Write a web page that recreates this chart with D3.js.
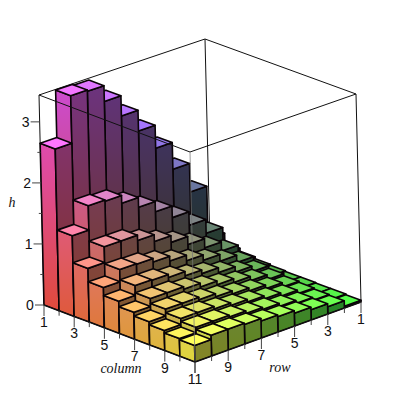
<!DOCTYPE html>
<html>
<head>
<meta charset="utf-8">
<script src="https://cdn.jsdelivr.net/npm/d3@7"></script>
<style>
  html, body { margin: 0; background: #fff; }
  .tick-label { font: 14px "Liberation Sans", sans-serif; fill: #111; text-anchor: middle; }
  .axis-title { font: italic 14px "Liberation Serif", serif; fill: #111; text-anchor: middle; }
</style>
</head>
<body>
<div class="chart"></div>
<script>
// bar heights, one list per column, row 1 first
const column1 = [0.32, 1.19, 1.66, 2.10, 2.48, 2.82, 3.15, 3.41, 3.43, 2.65];
const column2 = [0.16, 0.60, 0.83, 1.05, 1.24, 1.41, 1.57, 1.70, 1.72, 1.32];
const column3 = [0.11, 0.40, 0.55, 0.70, 0.83, 0.94, 1.05, 1.14, 1.14, 0.88];
const column4 = [0.08, 0.30, 0.42, 0.53, 0.62, 0.71, 0.79, 0.85, 0.86, 0.66];
const column5 = [0.06, 0.24, 0.33, 0.42, 0.50, 0.56, 0.63, 0.68, 0.69, 0.53];
const column6 = [0.05, 0.20, 0.28, 0.35, 0.41, 0.47, 0.53, 0.57, 0.57, 0.44];
const column7 = [0.05, 0.17, 0.24, 0.30, 0.35, 0.40, 0.45, 0.49, 0.49, 0.38];
const column8 = [0.04, 0.15, 0.21, 0.26, 0.31, 0.35, 0.39, 0.43, 0.43, 0.33];
const column9 = [0.04, 0.13, 0.18, 0.23, 0.28, 0.31, 0.35, 0.38, 0.38, 0.29];
const column10 = [0.03, 0.12, 0.17, 0.21, 0.25, 0.28, 0.32, 0.34, 0.34, 0.27];
const columns = [column1, column2, column3, column4, column5, column6, column7, column8, column9, column10];

const columnTicks = [1, 3, 5, 7, 9, 11];
const rowTicks = [1, 3, 5, 7, 9];
const heightTicks = [0, 1, 2, 3];
const heightMax = 3.44;

const svg = d3.selectAll(".chart")
    .append("svg")
    .attr("width", 400)
    .attr("height", 400)
    .style("display", "block");
const defs = svg.append("defs");

// scales from data values to box fractions
const colScale = d3.scaleLinear().domain([1, 11]).range([0, 1]);
const rowScale = d3.scaleLinear().domain([11, 1]).range([0, 1]);
const hScale = d3.scaleLinear().domain([0, heightMax]).range([0, 1]);

// the view is almost orthographic, so each screen coordinate is a sum of three axis scales
const xFromCol = d3.scaleLinear().domain([0, 1]).range([0, 151]);
const xFromRow = d3.scaleLinear().domain([0, 1]).range([0, 166]);
const xFromH = d3.scaleLinear().domain([0, 1]).range([0, -5]);
const yFromCol = d3.scaleLinear().domain([0, 1]).range([0, 57]);
const yFromRow = d3.scaleLinear().domain([0, 1]).range([0, -58]);
const yFromH = d3.scaleLinear().domain([0, 1]).range([0, -210]);
const originX = 44, originY = 305;

function project(col, row, h) {
    const u = colScale(col), v = rowScale(row), w = hScale(h);
    return [
        originX + xFromCol(u) + xFromRow(v) + xFromH(w),
        // last term is the bit of perspective left on the row edges
        originY + yFromCol(u) + yFromRow(v) + yFromH(w) + 2 * v * (w - u)
    ];
}

// colour follows position: red with row, green with column, blue with height
const redScale = d3.scaleLinear().domain([11, 1]).range([0.92, 0.15]);
const greenScale = d3.scaleLinear().domain([1, 11]).range([0.28, 0.9]);
const blueScale = d3.scaleLinear().domain([0, heightMax]).range([0.25, 0.85]);
const topBlueScale = d3.scaleLinear().domain([0, heightMax]).range([0.28, 1.3]);

function shade(col, row, h, gain) {
    return d3.rgb(
        255 * redScale(row) * gain,
        255 * greenScale(col) * gain,
        255 * blueScale(h) * gain
    ).formatRgb();
}

// top faces catch the light
function topShade(col, row, h) {
    return d3.rgb(
        255 * (redScale(row) + 0.15),
        255 * (greenScale(col) + 0.15),
        255 * topBlueScale(h)
    ).formatRgb();
}

const line = d3.line();
const bars = d3.cross(d3.range(1, 11), d3.range(1, 11))
    .map(([col, row]) => ({ col, row, h: columns[col - 1][row - 1] }));

function faceGradient(id, col, row, h, gain) {
    const bottom = project(col, row, 0), top = project(col, row, h);
    const grad = defs.append("linearGradient")
        .attr("id", id)
        .attr("gradientUnits", "userSpaceOnUse")
        .attr("x1", bottom[0]).attr("y1", bottom[1])
        .attr("x2", top[0]).attr("y2", top[1]);
    grad.append("stop").attr("offset", 0).attr("stop-color", shade(col, row, 0, gain));
    grad.append("stop").attr("offset", 1).attr("stop-color", shade(col, row, h, gain));
}

function boxLine(parent, a, b) {
    return parent.append("path")
        .attr("d", line([project(...a), project(...b)]))
        .attr("fill", "none")
        .attr("stroke", "#111")
        .attr("stroke-width", 1);
}

// box edges behind the bars
const backEdges = svg.append("g");
boxLine(backEdges, [1, 11, heightMax], [1, 1, heightMax]);
boxLine(backEdges, [1, 1, heightMax], [11, 1, heightMax]);
boxLine(backEdges, [1, 1, heightMax], [1, 1, 0]);
boxLine(backEdges, [1, 11, heightMax], [1, 11, 0]);
boxLine(backEdges, [11, 1, heightMax], [11, 1, 0]);

// bars, far corner first
const barGroup = svg.append("g")
    .attr("stroke", "#0a0408")
    .attr("stroke-width", 1.6)
    .attr("stroke-linejoin", "round");

bars.forEach(d => {
    const c0 = d.col, c1 = d.col + 1, r0 = d.row, r1 = d.row + 1;
    const cm = d.col + 0.5, rm = d.row + 0.5;
    faceGradient(`left-${d.col}-${d.row}`, cm, r1, d.h, 0.95);
    faceGradient(`right-${d.col}-${d.row}`, c1, rm, d.h, 0.58);

    barGroup.append("path")
        .attr("d", line([project(c0, r1, 0), project(c1, r1, 0), project(c1, r1, d.h), project(c0, r1, d.h)]) + "Z")
        .attr("fill", `url(#left-${d.col}-${d.row})`);
    barGroup.append("path")
        .attr("d", line([project(c1, r1, 0), project(c1, r0, 0), project(c1, r0, d.h), project(c1, r1, d.h)]) + "Z")
        .attr("fill", `url(#right-${d.col}-${d.row})`);
    barGroup.append("path")
        .attr("d", line([project(c0, r1, d.h), project(c1, r1, d.h), project(c1, r0, d.h), project(c0, r0, d.h)]) + "Z")
        .attr("fill", topShade(cm, rm, d.h));
});

// box edges in front of the bars
const frontEdges = svg.append("g");
boxLine(frontEdges, [1, 11, heightMax], [11, 11, heightMax]);
boxLine(frontEdges, [11, 11, heightMax], [11, 1, heightMax]);
// this one stays faint where it crosses the bars
boxLine(frontEdges, [11, 11, heightMax], [11, 11, 0]).attr("stroke", "#777").attr("stroke-opacity", 0.75);
boxLine(frontEdges, [1, 11, 0], [11, 11, 0]);
boxLine(frontEdges, [11, 11, 0], [11, 1, 0]);

// ticks and labels
const ticks = svg.append("g").attr("stroke", "#444").attr("stroke-width", 1);

function tick(p, dx, dy) {
    ticks.append("path").attr("d", line([p, [p[0] + dx, p[1] + dy]]));
}

d3.range(1, 12).forEach(v => {
    const len = v % 2 ? 11 : 5;
    tick(project(v, 11, 0), 0, len);
    tick(project(11, v, 0), 0, len);
});
d3.range(0, 3.5, 0.5).forEach(v => {
    tick(project(1, 11, v), Number.isInteger(v) ? -9 : -3, 0);
});

const labels = svg.append("g");
labels.selectAll(".col-label").data(columnTicks).join("text")
    .attr("class", "tick-label col-label")
    .attr("x", d => project(d, 11, 0)[0])
    .attr("y", d => project(d, 11, 0)[1] + 22)
    .text(d => d);
labels.selectAll(".row-label").data(rowTicks).join("text")
    .attr("class", "tick-label row-label")
    .attr("x", d => project(11, d, 0)[0])
    .attr("y", d => project(11, d, 0)[1] + 22)
    .text(d => d);
labels.selectAll(".h-label").data(heightTicks).join("text")
    .attr("class", "tick-label h-label")
    .attr("x", d => project(1, 11, d)[0] - 14)
    .attr("y", d => project(1, 11, d)[1] + 5)
    .text(d => d);

labels.append("text").attr("class", "axis-title").attr("x", 121).attr("y", 373).text("column");
labels.append("text").attr("class", "axis-title").attr("x", 280).attr("y", 372).text("row");
labels.append("text").attr("class", "axis-title").attr("x", 12).attr("y", 207).text("h");
</script>
</body>
</html>
